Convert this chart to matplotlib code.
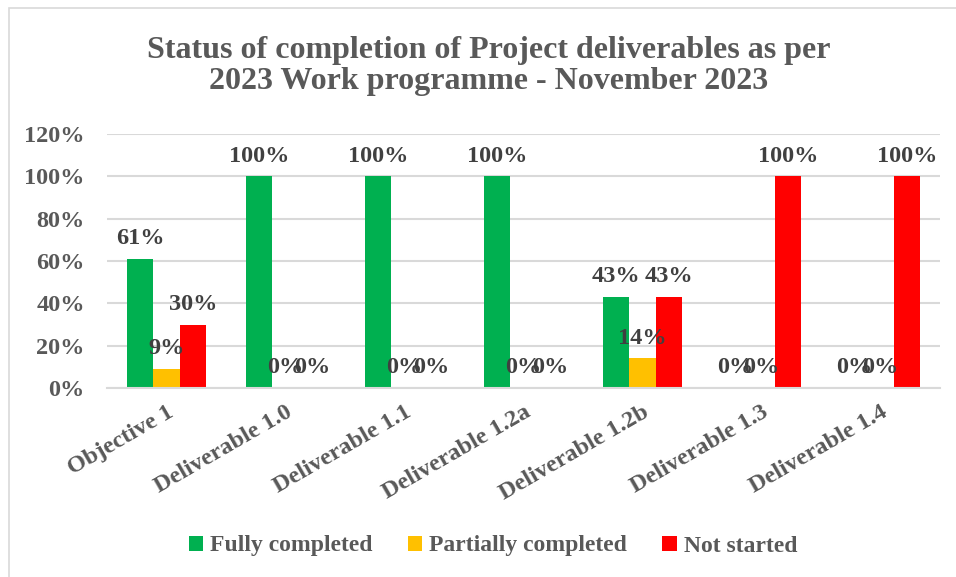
import matplotlib
matplotlib.use("Agg")
import matplotlib.pyplot as plt
import numpy as np
from matplotlib.patches import Rectangle

# data
categories = ["Objective 1", "Deliverable 1.0", "Deliverable 1.1", "Deliverable 1.2a",
              "Deliverable 1.2b", "Deliverable 1.3", "Deliverable 1.4"]
fully = [61, 100, 100, 100, 43, 0, 0]
partially = [9, 0, 0, 0, 14, 0, 0]
not_started = [30, 0, 0, 0, 43, 100, 100]

series = ["Fully completed", "Partially completed", "Not started"]
colors = ["#00B050", "#FFC000", "#FF0000"]

plt.rcParams["font.family"] = ["Liberation Serif", "DejaVu Serif"]
plt.rcParams["font.weight"] = "bold"

fig = plt.figure(figsize=(9.56, 5.77), dpi=100)
ax = fig.add_axes([107 / 956, 1 - 388 / 577, (940 - 107) / 956, (388 - 134) / 577])

x = np.arange(len(categories))
w = 0.223
for i, (vals, name, c) in enumerate(zip([fully, partially, not_started], series, colors)):
    pos = x + (i - 1) * w
    bars = ax.bar(pos, vals, width=w, color=c, label=name)
    for xp, v in zip(pos, vals):
        ax.annotate(f"{v}%", (xp, v), xytext=(0, 7), textcoords="offset points",
                    ha="center", va="bottom", fontsize=17.5, fontweight="bold",
                    color="#404040")

ax.set_xlim(-0.5, len(categories) - 0.5)
ax.set_ylim(0, 120)
ax.set_yticks(range(0, 121, 20))
ax.set_yticklabels([f"{t}%" for t in range(0, 121, 20)], fontsize=17.5,
                   fontweight="bold", color="#595959")
ax.set_xticks(x)
ax.set_xticklabels(categories, rotation=30, ha="right", rotation_mode="anchor",
                   fontsize=17.5, fontweight="bold", color="#595959")
ax.tick_params(axis="y", length=0, pad=16)
ax.tick_params(axis="x", length=0, pad=10)
ax.yaxis.grid(True, color="#D9D9D9", linewidth=1.5)
ax.set_axisbelow(True)
for s in ["top", "right", "left"]:
    ax.spines[s].set_visible(False)
ax.spines["bottom"].set_color("#D9D9D9")
ax.spines["bottom"].set_linewidth(1.5)

fig.text(489 / 956, 1 - 66 / 577,
         "Status of completion of Project deliverables as per\n2023 Work programme - November 2023",
         ha="center", va="center", fontsize=23, fontweight="bold", color="#595959",
         linespacing=1.05)

fig.legend(loc="center", bbox_to_anchor=(493 / 956, 1 - 546 / 577), ncol=3,
           frameon=False, handlelength=0.6, handleheight=0.6, handletextpad=0.3,
           columnspacing=1.5, prop={"size": 17, "weight": "bold"}, labelcolor="#595959")

# chart area border (cropped on right and bottom)
fig.patches.append(Rectangle((9 / 956, -0.1), 1.2, 1 - 8 / 577 + 0.1,
                             transform=fig.transFigure, fill=False,
                             edgecolor="#D9D9D9", linewidth=1.2))

fig.savefig("out.png", dpi=100)
